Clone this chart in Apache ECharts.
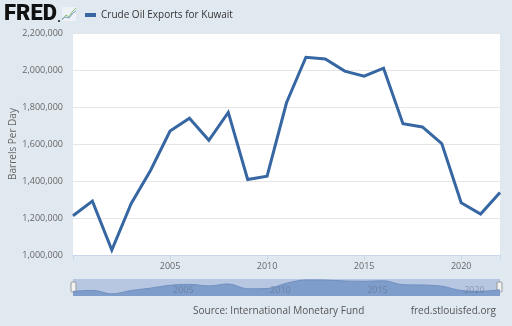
<!DOCTYPE html>
<html>
<head>
<meta charset="utf-8">
<script src="https://cdn.jsdelivr.net/npm/echarts@6/dist/echarts.min.js"></script>
<style>
  html, body { margin: 0; padding: 0; background: #e1e9f0; }
  #chart { width: 512px; height: 326px; }
</style>
</head>
<body>
<div id="chart"></div>
<script>
// Kuwait crude oil exports, barrels per day
const years = [2000, 2001, 2002, 2003, 2004, 2005, 2006, 2007, 2008, 2009, 2010,
  2011, 2012, 2013, 2014, 2015, 2016, 2017, 2018, 2019, 2020, 2021, 2022];
const exportsBpd = [1212000, 1291000, 1027000, 1279000, 1458000, 1670000, 1739000,
  1620000, 1771000, 1408000, 1426000, 1823000, 2069000, 2060000, 1994000, 1967000,
  2010000, 1710000, 1692000, 1602000, 1282000, 1221000, 1338000];
const yTicks = [1000000, 1200000, 1400000, 1600000, 1800000, 2000000, 2200000];
const xTickYears = [2005, 2010, 2015, 2020];
const seriesName = 'Crude Oil Exports for Kuwait';

const points = years.map((y, i) => [y, exportsBpd[i]]);
const lineColor = '#3767a3';
const fmt = v => v.toLocaleString('en-US');

const chart = echarts.init(document.getElementById('chart'), null, { renderer: 'canvas' });
chart.setOption({
  backgroundColor: '#e1e9f0',
  animation: false,
  textStyle: { fontFamily: 'Open Sans, sans-serif' },
  legend: {
    left: 80, top: 5,
    itemWidth: 11, itemHeight: 4, itemGap: 4,
    icon: 'rect',
    data: [seriesName],
    textStyle: { fontSize: 10, color: '#333', fontFamily: 'Open Sans, sans-serif' }
  },
  grid: [
    { left: 73, right: 12, top: 33, bottom: 71, show: true, backgroundColor: '#ffffff',
      borderWidth: 0, containLabel: false, outerBoundsMode: 'none' },
    { left: 73, right: 12, top: 279, height: 17, show: true, backgroundColor: '#b7c7e2',
      borderWidth: 0, containLabel: false, outerBoundsMode: 'none' }
  ],
  xAxis: [
    {
      gridIndex: 0, type: 'value', min: years[0], max: years[years.length - 1], interval: 5,
      axisLine: { show: true, lineStyle: { color: '#ccd6eb', width: 1 } },
      axisTick: { show: true, length: 5, lineStyle: { color: '#ccd6eb' } },
      splitLine: { show: false },
      axisLabel: {
        color: '#666', fontSize: 9, margin: 7,
        formatter: v => xTickYears.includes(v) ? String(v) : ''
      }
    },
    {
      gridIndex: 1, type: 'value', min: years[0], max: years[years.length - 1], interval: 5,
      z: 10,
      axisLine: { show: false }, axisTick: { show: false }, splitLine: { show: false },
      axisLabel: {
        inside: true, margin: 1, align: 'left', fontSize: 9,
        color: 'rgba(90,105,130,0.5)', padding: [0, 0, 0, 3],
        formatter: v => xTickYears.includes(v) ? String(v) : ''
      }
    }
  ],
  yAxis: [
    {
      gridIndex: 0, type: 'value', min: yTicks[0], max: yTicks[yTicks.length - 1], interval: 200000,
      name: 'Barrels Per Day', nameLocation: 'middle', nameGap: 55, nameMoveOverlap: false,
      nameTextStyle: { color: '#666', fontSize: 10 },
      axisLine: { show: false }, axisTick: { show: false },
      splitLine: { lineStyle: { color: '#e6e6e6', width: 1 } },
      axisLabel: { color: '#666', fontSize: 9, margin: 10, formatter: fmt }
    },
    {
      gridIndex: 1, type: 'value', min: 870000, max: 2140000,
      show: false, splitLine: { show: false }
    }
  ],
  series: [
    {
      name: seriesName, type: 'line', xAxisIndex: 0, yAxisIndex: 0,
      data: points, showSymbol: false, color: lineColor,
      lineStyle: { color: lineColor, width: 3, join: 'miter' }
    },
    {
      name: 'navigator', type: 'line', xAxisIndex: 1, yAxisIndex: 1, z: 1,
      data: points, showSymbol: false, smooth: 0.35,
      lineStyle: { color: '#6f8fc0', width: 1 },
      areaStyle: { color: '#7f9dca', opacity: 1, origin: 'start' },
      silent: true
    }
  ],
  graphic: [
    // FRED wordmark and icon
    { type: 'text', left: 4, top: 3,
      style: { text: 'FRED', font: '900 22px Roboto, sans-serif', fill: '#111' } },
    { type: 'circle', shape: { cx: 59, cy: 21, r: 1 }, style: { fill: '#111' } },
    { type: 'rect', shape: { x: 62, y: 7, width: 14, height: 14 }, style: { fill: '#eef2f6' } },
    { type: 'polyline', shape: { points: [[62, 20], [66, 15], [69, 17], [72, 12], [76, 8]] },
      style: { stroke: '#8bbf6a', lineWidth: 1, fill: null } },
    { type: 'polyline', shape: { points: [[62, 19], [65, 17], [69, 18], [73, 13], [76, 11]] },
      style: { stroke: '#7fa0c8', lineWidth: 1, fill: null } },
    // navigator handles
    { type: 'rect', shape: { x: 71, y: 282, width: 5, height: 10, r: 1 },
      style: { fill: '#f2f2f2', stroke: '#999', lineWidth: 1 } },
    { type: 'rect', shape: { x: 497, y: 282, width: 5, height: 10, r: 1 },
      style: { fill: '#f2f2f2', stroke: '#999', lineWidth: 1 } },
    // footer
    { type: 'text', left: 193, top: 306,
      style: { text: 'Source: International Monetary Fund', font: '10px Open Sans, sans-serif', fill: '#555' } },
    { type: 'text', right: 16, top: 306,
      style: { text: 'fred.stlouisfed.org', font: '10px Open Sans, sans-serif', fill: '#555' } }
  ]
});
</script>
</body>
</html>
